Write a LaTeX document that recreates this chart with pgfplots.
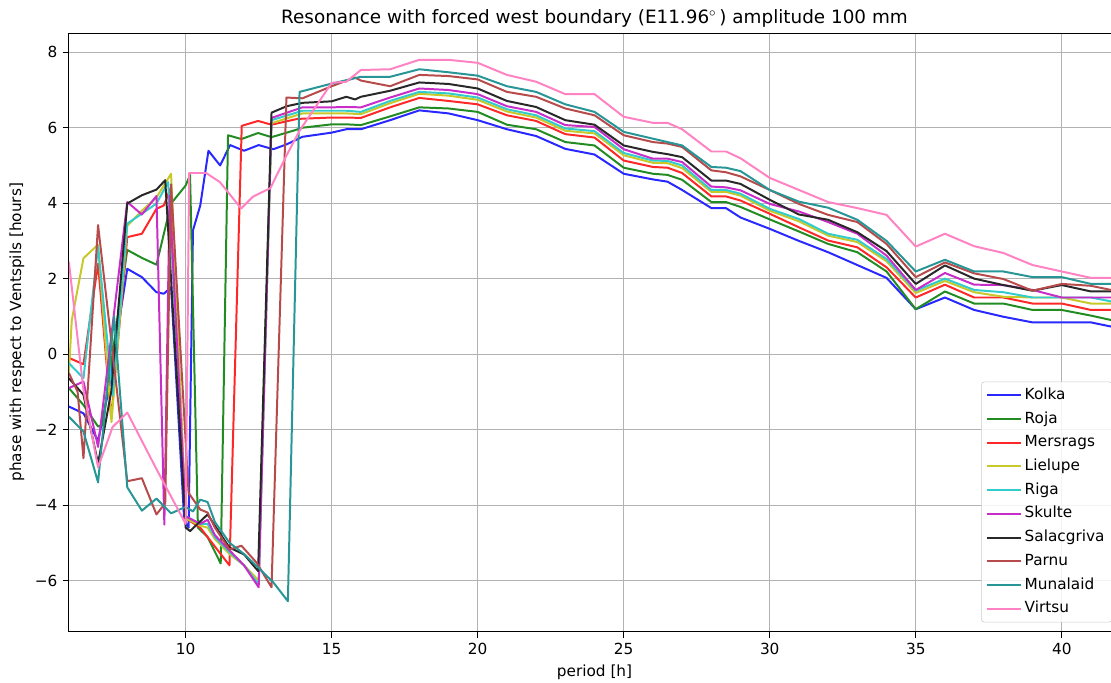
\documentclass[border=0pt]{standalone}
\usepackage{pgfplots}
\pgfplotsset{compat=1.18}
\usepackage{fontspec}
\setmainfont{DejaVu Sans}
\definecolor{cKolka}{RGB}{40,40,255}
\definecolor{cRoja}{RGB}{34,140,34}
\definecolor{cMers}{RGB}{255,40,40}
\definecolor{cLiel}{RGB}{200,200,40}
\definecolor{cRiga}{RGB}{51,204,204}
\definecolor{cSkul}{RGB}{200,45,200}
\definecolor{cSala}{RGB}{40,40,40}
\definecolor{cParn}{RGB}{183,75,75}
\definecolor{cMuna}{RGB}{40,150,150}
\definecolor{cVirt}{RGB}{255,130,195}
\begin{document}
\begin{tikzpicture}
\begin{axis}[
  scale only axis, width=687pt, height=391pt,
  xmin=6, xmax=42, ymin=-7.35, ymax=8.51,
  xtick={10,15,20,25,30,35,40}, xticklabels={10,15,20,25,30,35,40},
  ytick={-6,-4,-2,0,2,4,6,8}, yticklabels={−6,−4,−2,0,2,4,6,8},
  grid=major, major grid style={color=black!30, line width=0.6pt},
  tick align=outside, tick pos=left, major tick length=4pt,
  tick style={black, line width=0.6pt},
  axis line style={line width=0.6pt},
  ticklabel style={font=\fontsize{10}{12}\selectfont},
  label style={font=\fontsize{10}{12}\selectfont},
  title style={font=\fontsize{12}{14}\selectfont, yshift=-5.6pt},
  title={Resonance with forced west boundary (E11.96$^\circ$\,) amplitude 100 mm},
  xlabel={period [h]},
  ylabel={phase with respect to Ventspils [hours]},
  every axis plot/.append style={line width=1.3pt, line join=round},
  legend style={at={(0.9927,0.015)}, anchor=south east, draw=black!20,
    rounded corners=2pt, fill=white, fill opacity=0.85, text opacity=1,
    font=\fontsize{10}{12}\selectfont,
    nodes={inner sep=2pt, text height=7.4pt, text depth=2.1pt}, row sep=2pt},
  legend cell align=left,
  legend image code/.code={\draw[#1] (0pt,0pt) -- (22pt,0pt);},
]
\addplot[cKolka] coordinates {(6,-1.39) (6.5,-1.57) (7,-2.3) (7.35,-1.0) (8,2.26) (8.5,2.04) (9,1.64) (9.25,1.6) (9.5,1.77) (9.95,-4.4) (10.1,-4.6) (10.25,3.28) (10.5,3.94) (10.78,5.39) (11.18,5.0) (11.52,5.54) (12,5.39) (12.5,5.54) (13,5.43) (13.46,5.56) (14,5.76) (15,5.87) (15.5,5.96) (16,5.96) (17,6.2) (18,6.46) (19,6.38) (20,6.2) (21,5.96) (22,5.78) (23,5.44) (24,5.29) (25,4.78) (26,4.63) (26.5,4.57) (27,4.35) (28,3.87) (28.5,3.87) (29,3.62) (30,3.32) (31,3.0) (32,2.7) (33,2.36) (34,2.02) (35,1.19) (36,1.5) (37,1.17) (38,0.99) (39,0.84) (40,0.84) (41,0.84) (42,0.68)};
\addlegendentry{Kolka}
\addplot[cRoja] coordinates {(6,-0.9) (6.5,-1.35) (7,-1.92) (7.15,-1.88) (8,2.76) (8.5,2.55) (9,2.37) (9.5,3.99) (10,4.47) (10.15,4.75) (10.42,-4.6) (10.75,-4.85) (11.2,-5.55) (11.45,5.8) (11.91,5.7) (12.48,5.86) (12.94,5.75) (13.68,5.92) (14,6.0) (15,6.09) (15.5,6.09) (16,6.07) (17,6.3) (18,6.54) (19,6.51) (20,6.42) (21,6.08) (22,5.96) (23,5.62) (24,5.53) (25,4.94) (26,4.78) (26.5,4.75) (27,4.62) (28,4.03) (28.5,4.03) (29,3.9) (30,3.57) (31,3.25) (32,2.92) (33,2.7) (34,2.19) (35,1.19) (36,1.66) (37,1.34) (38,1.34) (39,1.17) (40,1.17) (41,1.02) (42,0.85)};
\addlegendentry{Roja}
\addplot[cMers] coordinates {(6,-0.1) (6.5,-0.27) (7,2.4) (7.45,-1.7) (8,3.1) (8.5,3.19) (9,3.85) (9.25,3.94) (9.5,4.43) (10,-4.35) (10.5,-4.6) (11,-5.1) (11.5,-5.6) (11.92,6.05) (12.48,6.18) (12.94,6.08) (13.8,6.23) (14,6.24) (15,6.27) (15.5,6.27) (16,6.26) (17,6.54) (18,6.79) (19,6.71) (20,6.62) (21,6.33) (22,6.18) (23,5.83) (24,5.74) (25,5.13) (26,4.96) (26.5,4.94) (27,4.8) (28,4.18) (28.5,4.18) (29,4.07) (30,3.72) (31,3.36) (32,3.01) (33,2.83) (34,2.3) (35,1.5) (36,1.84) (37,1.5) (38,1.5) (39,1.34) (40,1.34) (41,1.17) (42,1.17)};
\addlegendentry{Mersrags}
\addplot[cLiel] coordinates {(6,-0.5) (6.1,0.9) (6.5,2.54) (7,2.9) (7.46,-1.8) (8,3.4) (8.5,3.8) (9,4.15) (9.5,4.78) (10,-4.35) (10.5,-4.55) (10.75,-4.6) (11,-4.9) (11.5,-5.3) (12,-5.6) (12.5,-6.0) (12.94,6.12) (14,6.38) (15,6.38) (15.5,6.38) (16,6.36) (17,6.65) (18,6.9) (19,6.85) (20,6.74) (21,6.43) (22,6.27) (23,5.92) (24,5.85) (25,5.27) (26,5.07) (26.5,5.06) (27,4.93) (28,4.3) (28.5,4.3) (29,4.2) (30,3.8) (31,3.52) (32,3.14) (33,2.97) (34,2.46) (35,1.62) (36,1.94) (37,1.64) (38,1.52) (39,1.5) (40,1.5) (41,1.34) (42,1.34)};
\addlegendentry{Lielupe}
\addplot[cRiga] coordinates {(6,-0.24) (6.5,-0.64) (7,2.85) (7.5,-1.1) (8,3.46) (8.5,3.72) (9,3.99) (9.4,4.56) (10,-4.3) (10.5,-4.5) (10.75,-4.5) (11,-4.85) (11.5,-5.25) (12,-5.6) (12.5,-6.1) (12.94,6.2) (14,6.45) (15,6.45) (15.5,6.45) (16,6.42) (17,6.71) (18,6.95) (19,6.91) (20,6.8) (21,6.49) (22,6.33) (23,5.98) (24,5.91) (25,5.33) (26,5.13) (26.5,5.12) (27,5.0) (28,4.35) (28.5,4.35) (29,4.25) (30,3.85) (31,3.58) (32,3.19) (33,3.03) (34,2.52) (35,1.68) (36,2.0) (37,1.7) (38,1.64) (39,1.5) (40,1.5) (41,1.5) (42,1.35)};
\addlegendentry{Riga}
\addplot[cSkul] coordinates {(6,-0.9) (6.5,-0.73) (7,-2.46) (8,4.03) (8.5,3.7) (9,4.19) (9.27,-4.52) (9.45,4.2) (10,-4.3) (10.5,-4.5) (10.75,-4.39) (11,-4.8) (11.5,-5.2) (12,-5.6) (12.5,-6.18) (12.94,6.26) (14,6.54) (15,6.54) (15.5,6.55) (16,6.54) (17,6.8) (18,7.04) (19,7.0) (20,6.89) (21,6.57) (22,6.42) (23,6.07) (24,6.02) (25,5.43) (26,5.18) (26.5,5.18) (27,5.09) (28,4.44) (28.5,4.42) (29,4.34) (30,3.98) (31,3.78) (32,3.5) (33,3.19) (34,2.61) (35,1.7) (36,2.15) (37,1.84) (38,1.83) (39,1.7) (40,1.5) (41,1.5) (42,1.5)};
\addlegendentry{Skulte}
\addplot[cSala] coordinates {(6,-0.64) (6.5,-1.08) (7,-2.9) (7.45,-1.0) (8,3.99) (8.5,4.21) (9,4.36) (9.3,4.61) (10.0,-4.6) (10.15,-4.69) (10.75,-4.25) (11.5,-5.13) (12,-5.31) (12.48,-5.75) (12.94,6.4) (13.46,6.57) (14,6.66) (15,6.7) (15.5,6.82) (15.8,6.75) (16,6.82) (17,6.98) (18,7.2) (19,7.16) (20,7.04) (21,6.71) (22,6.55) (23,6.2) (24,6.08) (25,5.53) (26,5.36) (26.5,5.3) (27,5.22) (28,4.6) (28.5,4.6) (29,4.51) (30,4.09) (31,3.7) (32,3.56) (33,3.23) (34,2.73) (35,1.86) (36,2.35) (37,2.0) (38,1.83) (39,1.68) (40,1.83) (41,1.66) (42,1.66)};
\addlegendentry{Salacgriva}
\addplot[cParn] coordinates {(6,-0.5) (6.3,-1.0) (6.5,-2.76) (7,3.42) (8,-3.37) (8.5,-3.29) (9,-4.25) (9.3,-3.95) (9.5,4.5) (10.1,-3.68) (10.5,-4.12) (10.75,-4.2) (11,-4.6) (11.5,-5.18) (11.91,-5.08) (12.43,-5.53) (12.94,-6.18) (13.45,6.8) (14,6.78) (15,7.1) (15.8,7.33) (16,7.25) (17,7.1) (18,7.4) (19,7.37) (20,7.28) (21,6.95) (22,6.82) (23,6.51) (24,6.33) (25,5.8) (26,5.62) (26.5,5.58) (27,5.49) (28,4.87) (28.5,4.82) (29,4.71) (30,4.35) (31,3.98) (32,3.69) (33,3.5) (34,2.92) (35,2.04) (36,2.43) (37,2.14) (38,1.99) (39,1.68) (40,1.86) (41,1.81) (42,1.65)};
\addlegendentry{Parnu}
\addplot[cMuna] coordinates {(6,-1.66) (6.5,-2.05) (7,-3.4) (7.55,1.0) (8,-3.53) (8.5,-4.15) (9,-3.83) (9.5,-4.22) (10,-4.05) (10.25,-4.17) (10.5,-3.86) (10.75,-3.92) (11,-4.45) (11.5,-5.0) (12,-5.3) (12.5,-5.67) (13,-6.05) (13.5,-6.55) (13.9,6.95) (15,7.17) (15.5,7.26) (16,7.35) (17,7.35) (18,7.55) (19,7.47) (20,7.38) (21,7.1) (22,6.95) (23,6.62) (24,6.42) (25,5.89) (26,5.71) (26.5,5.62) (27,5.53) (28,4.96) (28.5,4.94) (29,4.85) (30,4.35) (31,4.04) (32,3.88) (33,3.56) (34,3.0) (35,2.19) (36,2.5) (37,2.19) (38,2.19) (39,2.04) (40,2.04) (41,1.86) (42,1.86)};
\addlegendentry{Munalaid}
\addplot[cVirt] coordinates {(6,2.45) (6.5,-0.95) (7,-3.0) (7.5,-1.93) (8,-1.55) (9,-3.05) (10,-4.5) (10.12,4.8) (10.7,4.8) (11.17,4.56) (11.9,3.86) (12.3,4.17) (12.9,4.4) (13.45,5.26) (13.9,5.92) (15,7.19) (15.5,7.22) (16,7.53) (17,7.55) (18,7.8) (19,7.8) (20,7.72) (21,7.4) (22,7.22) (23,6.89) (24,6.89) (25,6.29) (26,6.13) (26.5,6.13) (27,5.96) (28,5.37) (28.5,5.37) (29,5.19) (30,4.67) (31,4.35) (32,4.03) (33,3.87) (34,3.69) (35,2.85) (36,3.19) (37,2.86) (38,2.68) (39,2.36) (40,2.19) (41,2.02) (42,2.02)};
\addlegendentry{Virtsu}
\end{axis}
\pgfresetboundingbox
\path[use as bounding box] (-45pt,-33.3pt) rectangle (681pt,412.6pt);
\end{tikzpicture}
\end{document}
